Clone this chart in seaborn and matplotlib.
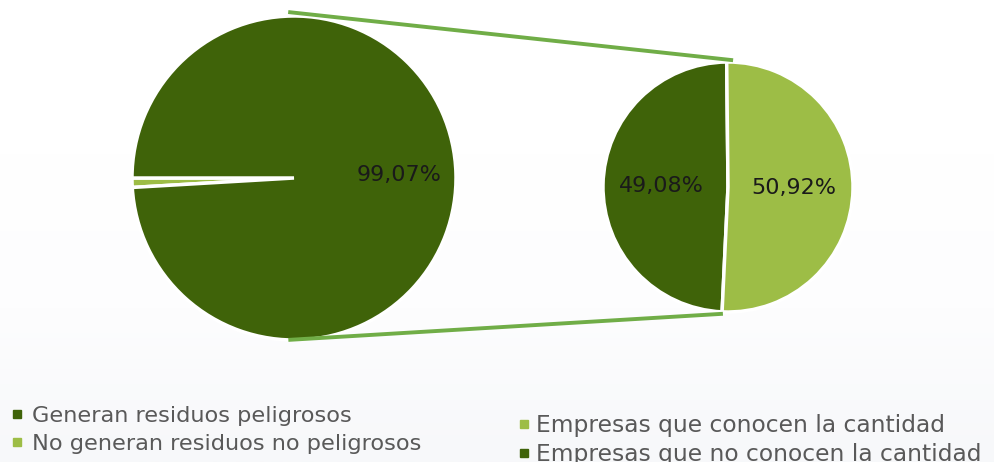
import numpy as np
import matplotlib
matplotlib.use("Agg")
import matplotlib.pyplot as plt
from matplotlib.lines import Line2D
import seaborn as sns

# data
main_labels = ["Generan residuos peligrosos", "No generan residuos no peligrosos"]
main_values = [99.07, 0.93]
sub_labels = ["Empresas que conocen la cantidad", "Empresas que no conocen la cantidad"]
sub_values = [50.92, 49.08]

dark_green = "#3F6309"
light_green = "#9DBD46"
line_green = "#70AD47"
text_grey = "#595959"

sns.set_style("white")
plt.rcParams['font.family'] = ['DejaVu Sans']

W, H = 994, 462
fig = plt.figure(figsize=(W / 100, H / 100), dpi=100)

# subtle gradient background
bg = fig.add_axes([0, 0, 1, 1], zorder=-10)
grad = np.linspace(0, 1, 256).reshape(-1, 1)
cmap = matplotlib.colors.LinearSegmentedColormap.from_list("bg", ["#FFFFFF", "#FFFFFF", "#FDFDFE", "#F7F8FA"])
bg.imshow(grad, aspect="auto", cmap=cmap, extent=[0, 1, 0, 1], origin="upper")
bg.axis("off")

ax = fig.add_axes([0, 0, 1, 1])
ax.patch.set_alpha(0)

fmt = lambda p: (f"{p:.2f}%".replace(".", ",")) if p > 5 else ""

# main pie: small slice sits on the left, just below horizontal
big_c, big_r = (294, 284), 162
ax.pie([main_values[1], main_values[0]], colors=[light_green, dark_green],
       startangle=180, center=big_c, radius=big_r, autopct=fmt, pctdistance=0.65,
       wedgeprops=dict(edgecolor="white", linewidth=2.5),
       textprops=dict(fontsize=16, color="#1A1A1A"))

# secondary pie
sm_c, sm_r = (728, 275), 125
ax.pie([sub_values[1], sub_values[0]], colors=[dark_green, light_green],
       startangle=90.6, center=sm_c, radius=sm_r, autopct=fmt, pctdistance=0.53,
       wedgeprops=dict(edgecolor="white", linewidth=2.5),
       textprops=dict(fontsize=16, color="#1A1A1A"))

# connector lines
def pt(c, r, a):
    return c[0] + r * np.cos(np.radians(a)), c[1] + r * np.sin(np.radians(a))

for a_big, a_sm, rb in [(92, 87.7, 1.025), (268, 267.7, 1.0)]:
    x0, y0 = pt(big_c, big_r * rb, a_big)
    x1, y1 = pt(sm_c, sm_r * 1.015, a_sm)
    ax.plot([x0, x1], [y0, y1], color=line_green, lw=2.8, solid_capstyle="butt", zorder=5)

# pie() resets limits, so fix the pixel frame afterwards
ax.set_xlim(0, W)
ax.set_ylim(0, H)
ax.set_aspect("equal")
ax.axis("off")

# legends
def handles(cols):
    return [Line2D([0], [0], marker="s", color="none", markerfacecolor=c,
                   markeredgecolor=c, markersize=5.5) for c in cols]

leg1 = fig.legend(handles([dark_green, light_green]), main_labels,
                  loc="upper left", bbox_to_anchor=(7 / W, 1 - 401 / H),
                  frameon=False, fontsize=16.2, handlelength=0.5, handletextpad=0.4,
                  labelspacing=0.38, borderpad=0.2, borderaxespad=0, labelcolor=text_grey)
leg2 = fig.legend(handles([light_green, dark_green]), sub_labels,
                  loc="upper left", bbox_to_anchor=(513 / W, 1 - 409 / H),
                  frameon=False, fontsize=16.8, handlelength=0.5, handletextpad=0.3,
                  labelspacing=0.26, borderpad=0.2, borderaxespad=0, labelcolor=text_grey)

fig.savefig("out.png", dpi=100)
